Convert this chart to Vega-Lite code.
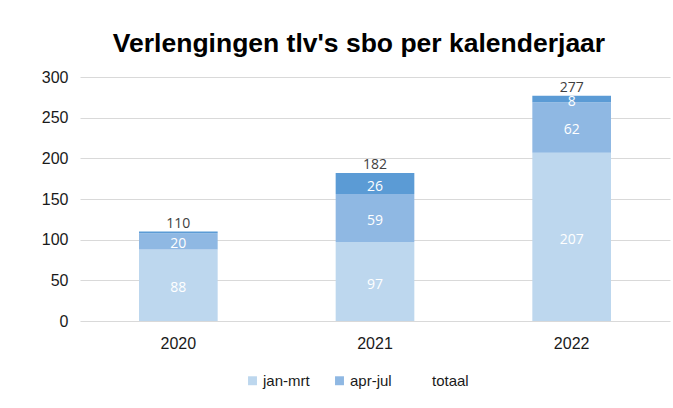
{
  "$schema": "https://vega.github.io/schema/vega-lite/v6.json",
  "width": 590,
  "height": 244,
  "autosize": {"type": "none"},
  "padding": {"left": 80, "top": 77, "right": 3, "bottom": 87},
  "background": "white",
  "title": {
    "text": "Verlengingen tlv's sbo per kalenderjaar",
    "fontSize": 26.5,
    "font": "Liberation Sans",
    "fontWeight": "bold",
    "color": "#000000",
    "anchor": "middle",
    "frame": "group",
    "dx": -16,
    "offset": 12
  },
  "config": {
    "view": {"stroke": null},
    "font": "Liberation Sans"
  },
  "data": {
    "values": [
      {"jaar": "2020", "periode": "jan-mrt", "aantal": 88, "volgorde": 1},
      {"jaar": "2020", "periode": "apr-jul", "aantal": 20, "volgorde": 2},
      {"jaar": "2020", "periode": "aug-dec", "aantal": 2, "volgorde": 3},
      {"jaar": "2021", "periode": "jan-mrt", "aantal": 97, "volgorde": 1},
      {"jaar": "2021", "periode": "apr-jul", "aantal": 59, "volgorde": 2},
      {"jaar": "2021", "periode": "aug-dec", "aantal": 26, "volgorde": 3},
      {"jaar": "2022", "periode": "jan-mrt", "aantal": 207, "volgorde": 1},
      {"jaar": "2022", "periode": "apr-jul", "aantal": 62, "volgorde": 2},
      {"jaar": "2022", "periode": "aug-dec", "aantal": 8, "volgorde": 3}
    ]
  },
  "encoding": {
    "x": {
      "field": "jaar",
      "type": "nominal",
      "title": null,
      "scale": {"paddingInner": 0.6, "paddingOuter": 0.3},
      "axis": {
        "labelAngle": 0,
        "domain": false,
        "ticks": false,
        "labelFontSize": 16,
        "labelColor": "#1a1a1a",
        "labelPadding": 14,
        "grid": false
      }
    }
  },
  "layer": [
    {
      "mark": {"type": "bar"},
      "encoding": {
        "y": {
          "field": "aantal",
          "type": "quantitative",
          "stack": "zero",
          "title": null,
          "scale": {"domain": [0, 300]},
          "axis": {
            "values": [0, 50, 100, 150, 200, 250, 300],
            "domain": false,
            "ticks": false,
            "gridColor": "#D9D9D9",
            "gridWidth": 1,
            "labelFontSize": 16,
            "labelColor": "#1a1a1a",
            "labelPadding": 12
          }
        },
        "color": {
          "field": "periode",
          "type": "nominal",
          "scale": {
            "domain": ["jan-mrt", "apr-jul", "aug-dec", "totaal"],
            "range": ["#BDD7EE", "#8FB8E3", "#5B9BD5", "rgba(0,0,0,0)"]
          },
          "legend": {
            "values": ["jan-mrt", "apr-jul", "totaal"],
            "title": null,
            "orient": "none",
            "direction": "horizontal",
            "legendX": 165,
            "legendY": 296,
            "symbolType": "square",
            "symbolSize": 80,
            "symbolStrokeWidth": 0,
            "labelFontSize": 15,
            "labelColor": "#1a1a1a",
            "labelOffset": 3,
            "columnPadding": 22
          }
        },
        "order": {"field": "volgorde"}
      }
    },
    {
      "transform": [
        {"stack": "aantal", "groupby": ["jaar"], "sort": [{"field": "volgorde"}], "as": ["onder", "boven"]},
        {"calculate": "(datum.onder + datum.boven) / 2", "as": "midden"},
        {"filter": "datum.aantal > 2"}
      ],
      "mark": {"type": "text", "color": "white", "fontSize": 14, "font": "Open Sans", "baseline": "middle", "dy": 3},
      "encoding": {
        "y": {"field": "midden", "type": "quantitative"},
        "text": {"field": "aantal", "type": "quantitative"}
      }
    },
    {
      "mark": {"type": "text", "color": "#404040", "fontSize": 14, "font": "Open Sans", "baseline": "alphabetic", "dy": -4},
      "encoding": {
        "y": {"aggregate": "sum", "field": "aantal", "type": "quantitative"},
        "text": {"aggregate": "sum", "field": "aantal", "type": "quantitative"}
      }
    }
  ]
}
